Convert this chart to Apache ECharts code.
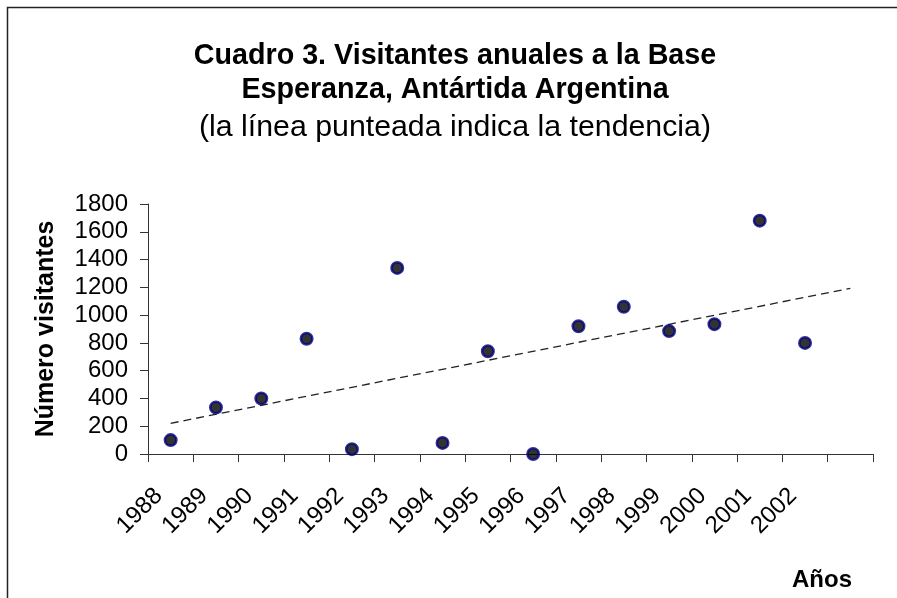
<!DOCTYPE html>
<html>
<head>
<meta charset="utf-8">
<script src="https://cdn.jsdelivr.net/npm/echarts@6/dist/echarts.min.js"></script>
<style>html,body{margin:0;padding:0;background:#fff;}#c{width:897px;height:598px;}</style>
</head>
<body>
<div id="c"></div>
<script>
const categories = ['1988','1989','1990','1991','1992','1993','1994','1995','1996','1997','1998','1999','2000','2001','2002',''];
const visitors = [100, 335, 400, 830, 35, 1340, 80, 740, 0, 920, 1060, 885, 935, 1680, 800];
const trendIndex = [0, 15];
const trendValues = [221, 1193];
const yTicks = { min: 0, max: 1800, interval: 200 };

const FONT = '"Liberation Sans", Arial, sans-serif';
const chart = echarts.init(document.getElementById('c'), null, { renderer: 'canvas' });
chart.setOption({
  backgroundColor: '#fff',
  animation: false,
  title: {
    text: 'Cuadro 3. Visitantes anuales a la Base\nEsperanza, Antártida Argentina',
    subtext: '(la línea punteada indica la tendencia)',
    left: 450, top: 34, textAlign: 'center', itemGap: 4,
    textStyle: { fontFamily: FONT, fontSize: 28.7, fontWeight: 'bold', color: '#000', lineHeight: 34 },
    subtextStyle: { fontFamily: FONT, fontSize: 30.3, fontWeight: 'normal', color: '#000', lineHeight: 34 }
  },
  grid: { left: 148, right: 24, top: 204, bottom: 144, containLabel: false },
  xAxis: {
    type: 'category', data: categories, boundaryGap: true,
    axisLine: { lineStyle: { color: '#333', width: 1 } },
    axisTick: { show: true, length: 8, inside: false, lineStyle: { color: '#333' } },
    axisLabel: { rotate: 45, margin: 26, padding: [0, 17, 0, 0], fontFamily: FONT, fontSize: 24, color: '#000', interval: 0 },
    splitLine: { show: false }
  },
  yAxis: {
    type: 'value', min: yTicks.min, max: yTicks.max, interval: yTicks.interval,
    name: 'Número visitantes', nameLocation: 'middle', nameRotate: 90, nameGap: 89,
    nameTextStyle: { fontFamily: FONT, fontSize: 25, fontWeight: 'bold', color: '#000' },
    axisLine: { show: true, lineStyle: { color: '#333', width: 1 } },
    axisTick: { show: true, length: 8, inside: false, lineStyle: { color: '#333' } },
    axisLabel: { margin: 20, fontFamily: FONT, fontSize: 24, color: '#000', formatter: v => String(v) },
    splitLine: { show: false }
  },
  series: [
    {
      type: 'line', data: trendIndex.map((x, i) => [x, trendValues[i]]),
      symbol: 'none', lineStyle: { color: '#222', width: 1.3, type: [8, 5] }, z: 1
    },
    {
      type: 'scatter', data: visitors, symbol: 'circle', symbolSize: 11.5,
      itemStyle: { color: '#000', borderColor: '#000080', borderWidth: 2.5 }, z: 3
    }
  ],
  graphic: [
    { type: 'rect', shape: { x: 7.5, y: 7.5, width: 900, height: 600 }, style: { fill: 'none', stroke: '#222', lineWidth: 1.5 }, silent: true },
    { type: 'text', left: 792, top: 568, style: { text: 'Años', font: 'bold 24px ' + FONT, fill: '#000' } }
  ]
});
</script>
</body>
</html>
